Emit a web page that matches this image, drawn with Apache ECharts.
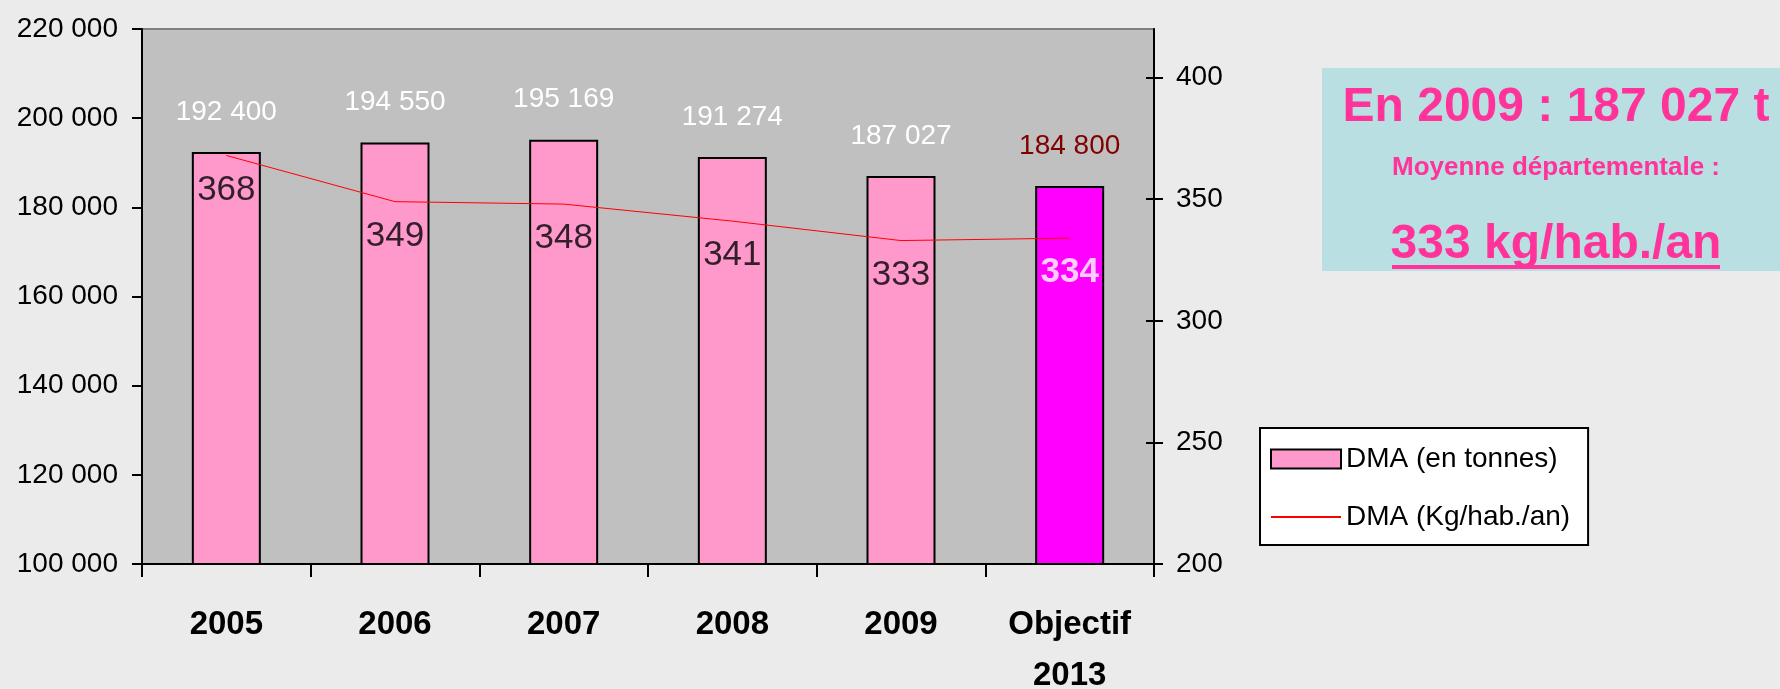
<!DOCTYPE html>
<html style="height: 100%">
<head>
    <meta charset="utf-8">
    <script src="https://cdn.jsdelivr.net/npm/echarts@6/dist/echarts.min.js"></script>
</head>
<body style="height: 100%; margin: 0; background: #ebebeb">
    <div id="main" style="width: 1780px; height: 689px"></div>
    <script type="text/javascript">
        var years = ['2005', '2006', '2007', '2008', '2009', 'Objectif\n2013'];
        var tonnes = [192400, 194550, 195169, 191274, 187027, 184800];
        var kgPerHab = [368, 349, 348, 341, 333, 334];
        var rightTicks = [200, 250, 300, 350, 400];
        var summaryLines = ['En 2009 : 187 027 t', 'Moyenne départementale :', '333 kg/hab./an'];

        var FONT = '"Liberation Sans", Arial, sans-serif';
        var last = tonnes.length - 1;

        // 192400 -> "192 400"
        function fmt(v) {
            return String(v).replace(/\B(?=(\d{3})+(?!\d))/g, ' ');
        }

        var chartDom = document.getElementById('main');
        var myChart = echarts.init(chartDom);
        var option;

        option = {
            backgroundColor: '#ebebeb',
            animation: false,
            textStyle: { fontFamily: FONT },
            grid: {
                left: 142,
                top: 29,
                width: 1012,
                height: 535,
                outerBoundsMode: 'none',
                show: true,
                backgroundColor: '#c0c0c0',
                borderColor: '#808080',
                borderWidth: 2
            },
            legend: {
                orient: 'vertical',
                left: 1260,
                top: 428,
                backgroundColor: '#ffffff',
                borderColor: '#000000',
                borderWidth: 2,
                borderRadius: 0,
                padding: [17, 18, 14, 10],
                itemWidth: 70,
                itemHeight: 19,
                itemGap: 30,
                selectedMode: false,
                textStyle: { fontSize: 28, color: '#000', fontFamily: FONT },
                data: [
                    { name: 'DMA (en tonnes)', icon: 'rect', itemStyle: { borderColor: '#000', borderWidth: 2 } },
                    { name: 'DMA (Kg/hab./an)', itemStyle: { opacity: 0 } }
                ]
            },
            xAxis: {
                type: 'category',
                data: years,
                axisLine: { lineStyle: { color: '#000', width: 2 } },
                axisTick: { show: true, length: 13, lineStyle: { color: '#000', width: 2 } },
                axisLabel: {
                    interval: 0,
                    fontSize: 33,
                    fontWeight: 'bold',
                    color: '#000',
                    margin: 35,
                    lineHeight: 51
                }
            },
            yAxis: [
                {
                    type: 'value',
                    position: 'left',
                    min: 100000,
                    max: 220000,
                    interval: 20000,
                    axisLine: { show: true, lineStyle: { color: '#000', width: 2 } },
                    axisTick: { show: true, length: 10, lineStyle: { color: '#000', width: 2 } },
                    axisLabel: { fontSize: 28, color: '#000', margin: 24, formatter: fmt },
                    splitLine: { show: false }
                },
                {
                    type: 'value',
                    position: 'right',
                    min: 200,
                    max: 420,
                    interval: 50,
                    axisLine: { show: true, lineStyle: { color: '#000', width: 2 } },
                    axisTick: { show: true, length: 9, customValues: rightTicks, lineStyle: { color: '#000', width: 2 } },
                    axisLabel: { fontSize: 28, color: '#000', margin: 22, customValues: rightTicks },
                    splitLine: { show: false }
                },
                {
                    // inner half of the crossing ticks on the right axis
                    type: 'value',
                    position: 'right',
                    min: 200,
                    max: 420,
                    interval: 50,
                    axisLine: { show: false },
                    axisTick: { show: true, inside: true, length: 8, customValues: rightTicks, lineStyle: { color: '#000', width: 2 } },
                    axisLabel: { show: false },
                    splitLine: { show: false }
                }
            ],
            series: [
                {
                    name: 'DMA (en tonnes)',
                    type: 'bar',
                    barWidth: 69,
                    data: tonnes.map(function (v, i) {
                        if (i === last) {
                            return { value: v, itemStyle: { color: '#ff00ff' }, label: { color: '#800000' } };
                        }
                        return v;
                    }),
                    itemStyle: { color: '#ff99cc', borderColor: '#000', borderWidth: 2 },
                    label: {
                        show: true,
                        position: 'top',
                        distance: 26,
                        color: '#ffffff',
                        fontSize: 28,
                        formatter: function (p) { return fmt(p.value); }
                    },
                    z: 2
                },
                {
                    name: 'DMA (Kg/hab./an)',
                    type: 'line',
                    yAxisIndex: 1,
                    data: kgPerHab,
                    symbol: 'none',
                    lineStyle: { color: '#ff0000', width: 1 },
                    itemStyle: { color: '#ff0000' },
                    z: 3
                },
                {
                    // labels of the line
                    name: 'labels',
                    type: 'scatter',
                    yAxisIndex: 1,
                    silent: true,
                    symbolSize: 0,
                    data: kgPerHab.map(function (v, i) {
                        if (i === last) {
                            return { value: v, label: { color: '#ffffff', fontWeight: 'bold' } };
                        }
                        return v;
                    }),
                    label: {
                        show: true,
                        position: 'bottom',
                        distance: 17,
                        fontSize: 35,
                        color: '#000'
                    },
                    z: 4
                }
            ],
            graphic: [
                {
                    type: 'rect',
                    left: 1322,
                    top: 68,
                    shape: { width: 458, height: 203 },
                    style: { fill: '#b9dfe2' }
                },
                {
                    type: 'text',
                    x: 1556,
                    y: 108,
                    style: {
                        text: summaryLines[0],
                        align: 'center',
                        verticalAlign: 'middle',
                        font: 'bold 48px ' + FONT,
                        fill: '#ff3399'
                    }
                },
                {
                    type: 'text',
                    x: 1556,
                    y: 168,
                    style: {
                        text: summaryLines[1],
                        align: 'center',
                        verticalAlign: 'middle',
                        font: 'bold 26px ' + FONT,
                        fill: '#ff3399'
                    }
                },
                {
                    type: 'text',
                    x: 1556,
                    y: 245,
                    style: {
                        text: summaryLines[2],
                        align: 'center',
                        verticalAlign: 'middle',
                        font: 'bold 48px ' + FONT,
                        fill: '#ff3399'
                    }
                },
                {
                    type: 'rect',
                    left: 1392,
                    top: 265,
                    shape: { width: 328, height: 4 },
                    style: { fill: '#ff3399' }
                }
            ]
        };

        option && myChart.setOption(option);
    </script>
</body>
</html>
